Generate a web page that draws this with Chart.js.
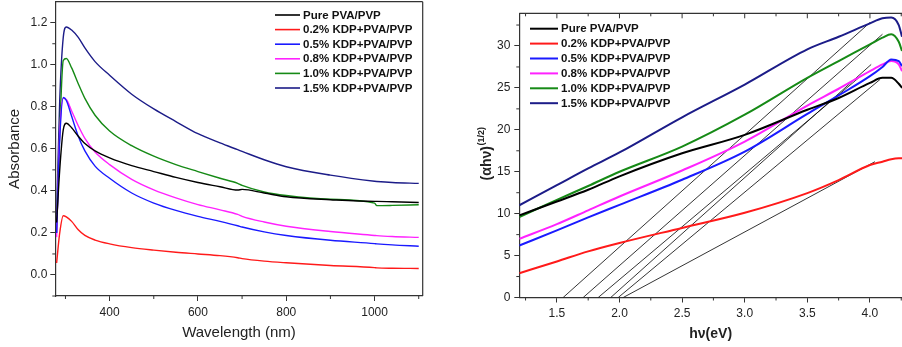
<!DOCTYPE html>
<html>
<head>
<meta charset="utf-8">
<script src="https://cdn.jsdelivr.net/npm/chart.js@4.4.1/dist/chart.umd.min.js"></script>
<style>
  html, body { margin: 0; padding: 0; background: #fff; }
  #wrap { position: relative; width: 902px; height: 347px; overflow: hidden; }
  #absChart { position: absolute; left: 0; top: 0; }
  #taucChart { position: absolute; left: 450px; top: 0; }
</style>
</head>
<body>
<div id="wrap">
  <canvas id="absChart" width="450" height="347"></canvas>
  <canvas id="taucChart" width="452" height="347"></canvas>
</div>
<script>
// series names and colours (same order in both panels)
const seriesLabels = ['Pure PVA/PVP', '0.2% KDP+PVA/PVP', '0.5% KDP+PVA/PVP',
  '0.8% KDP+PVA/PVP', '1.0% KDP+PVA/PVP', '1.5% KDP+PVA/PVP'];
const seriesColors = ['#000000', '#ff1a1a', '#1a1aff', '#ff22ff', '#168a16', '#1c1c88'];

// left panel: absorbance vs wavelength
const wavelengthNm = [280, 287, 295, 302, 314, 329, 344, 367, 400, 450, 500, 550, 600, 650, 690, 700, 750, 800, 900, 1000, 1005, 1040, 1100];
const absPure = [0.25, 0.50, 0.69, 0.722, 0.70, 0.66, 0.625, 0.59, 0.557, 0.52, 0.492, 0.464, 0.44, 0.42, 0.404, 0.407, 0.39, 0.372, 0.358, 0.35, 0.35, 0.348, 0.345];
const abs02 = [0.057, 0.20, 0.282, 0.276, 0.255, 0.215, 0.188, 0.166, 0.148, 0.13, 0.118, 0.108, 0.10, 0.092, 0.082, 0.078, 0.066, 0.058, 0.045, 0.035, 0.034, 0.032, 0.031];
const abs05 = [0.20, 0.643, 0.844, 0.83, 0.755, 0.66, 0.59, 0.518, 0.46, 0.39, 0.342, 0.307, 0.279, 0.255, 0.234, 0.228, 0.205, 0.188, 0.165, 0.149, 0.148, 0.143, 0.137];
const abs08 = [0.18, 0.675, 0.84, 0.835, 0.78, 0.71, 0.65, 0.585, 0.525, 0.455, 0.405, 0.367, 0.335, 0.31, 0.288, 0.279, 0.252, 0.232, 0.207, 0.188, 0.187, 0.183, 0.179];
const abs10 = [0.20, 0.675, 1.02, 1.03, 0.985, 0.91, 0.84, 0.76, 0.685, 0.615, 0.565, 0.525, 0.492, 0.46, 0.436, 0.426, 0.395, 0.378, 0.36, 0.342, 0.330, 0.331, 0.334];
const abs15 = [0.29, 0.83, 1.13, 1.18, 1.165, 1.13, 1.08, 1.015, 0.95, 0.86, 0.79, 0.73, 0.672, 0.628, 0.596, 0.588, 0.548, 0.515, 0.475, 0.446, 0.445, 0.44, 0.436];
const absXTicks = [400, 600, 800, 1000];
const absYTicks = [0, 0.2, 0.4, 0.6, 0.8, 1.0, 1.2];

// right panel: (alpha h nu)^(1/2) vs photon energy
const photonEv = [1.2, 1.5, 1.75, 2.0, 2.5, 3.0, 3.5, 3.75, 4.0, 4.1, 4.17, 4.23, 4.256];
const taucPure = [9.8, 11.45, 12.85, 14.45, 17.2, 19.4, 22.4, 23.8, 25.6, 26.2, 26.2, 25.5, 25.0];
const tauc02 = [2.9, 4.3, 5.5, 6.5, 8.3, 10.1, 12.45, 14.0, 15.8, 16.2, 16.5, 16.6, 16.6];
const tauc05 = [6.2, 8.0, 9.55, 11.05, 14.05, 17.4, 21.9, 24.1, 26.4, 27.5, 28.4, 28.2, 27.6];
const tauc08 = [7.0, 8.75, 10.4, 12.05, 15.15, 18.6, 22.9, 24.9, 27.0, 27.8, 28.2, 27.8, 27.0];
const tauc10 = [9.6, 11.65, 13.3, 15.0, 18.0, 21.8, 26.2, 28.2, 30.2, 31.0, 31.4, 30.5, 29.4];
const tauc15 = [11.0, 13.4, 15.4, 17.3, 21.5, 25.4, 29.6, 31.1, 32.7, 33.3, 33.4, 32.5, 31.1];
// linear fits extrapolated to the energy axis (Pure, 0.2, 0.5, 0.8, 1.0, 1.5)
const fitStartEv = [1.99, 2.03, 1.93, 1.83, 1.71, 1.55];
const fitEndEv = [4.08, 4.04, 4.01, 3.91, 4.10, 4.00];
const fitEndVal = [26.0, 16.2, 27.8, 26.2, 31.4, 32.8];
const taucXTicks = [1.5, 2.0, 2.5, 3.0, 3.5, 4.0];
const taucYTicks = [0, 5, 10, 15, 20, 25, 30];

const FONT = "'Liberation Sans', Arial, Helvetica, sans-serif";
const AXIS = '#333';

const toPts = (xs, ys) => xs.map((x, i) => ({ x: x, y: ys[i] }));

// frame, minor ticks and a top tick row drawn over the chart
const framePlugin = {
  id: 'frame',
  afterDraw(chart, args, o) {
    const { ctx, chartArea: ca, scales: { x, y } } = chart;
    ctx.save();
    ctx.strokeStyle = AXIS;
    ctx.lineWidth = 1.2;
    ctx.beginPath();
    if (o.top) { ctx.moveTo(ca.left, ca.top); ctx.lineTo(ca.right, ca.top); }
    if (o.right) { ctx.moveTo(ca.right, ca.top); ctx.lineTo(ca.right, ca.bottom); }
    ctx.stroke();
    ctx.lineWidth = 1;
    ctx.beginPath();
    o.xMinor.forEach(v => {
      const px = x.getPixelForValue(v);
      if (px < ca.left || px > ca.right) return;
      ctx.moveTo(px, ca.bottom); ctx.lineTo(px, ca.bottom + 3);
      if (o.topTicks) { ctx.moveTo(px, ca.top); ctx.lineTo(px, ca.top + 3); }
    });
    if (o.topTicks) {
      x.ticks.forEach(t => {
        const px = x.getPixelForValue(t.value);
        ctx.moveTo(px, ca.top); ctx.lineTo(px, ca.top + 5);
      });
    }
    o.yMinor.forEach(v => {
      const py = y.getPixelForValue(v);
      if (py < ca.top || py > ca.bottom) return;
      ctx.moveTo(ca.left, py); ctx.lineTo(ca.left - 3, py);
    });
    ctx.stroke();
    ctx.restore();
  }
};

// in-plot legend (skips the fit lines)
const legendPlugin = {
  id: 'plotLegend',
  afterDraw(chart, args, o) {
    const ctx = chart.ctx;
    ctx.save();
    ctx.font = 'bold ' + o.size + 'px ' + FONT;
    ctx.textBaseline = 'middle';
    ctx.fillStyle = '#111';
    let row = 0;
    chart.data.datasets.forEach(ds => {
      if (ds.isFit) return;
      const yy = o.y + row * o.rowH;
      ctx.strokeStyle = ds.borderColor;
      ctx.lineWidth = o.lineWidth;
      ctx.beginPath();
      ctx.moveTo(o.x, yy); ctx.lineTo(o.x + o.lineLen, yy);
      ctx.stroke();
      ctx.fillText(ds.label, o.x + o.lineLen + 3, yy + 0.5);
      row++;
    });
    ctx.restore();
  }
};

// y title with a superscript for the right panel
const taucTitlePlugin = {
  id: 'taucTitle',
  afterDraw(chart) {
    const ctx = chart.ctx;
    ctx.save();
    ctx.translate(36, 154);
    ctx.rotate(-Math.PI / 2);
    ctx.fillStyle = '#222';
    ctx.textBaseline = 'alphabetic';
    ctx.font = 'bold 14px ' + FONT;
    const base = '(\u03b1h\u03bd)';
    const sup = '(1/2)';
    const wBase = ctx.measureText(base).width;
    ctx.font = 'bold 9px ' + FONT;
    const wSup = ctx.measureText(sup).width;
    const x0 = -(wBase + wSup) / 2;
    ctx.font = 'bold 14px ' + FONT;
    ctx.fillText(base, x0, 5);
    ctx.font = 'bold 9px ' + FONT;
    ctx.fillText(sup, x0 + wBase + 0.5, -2);
    ctx.restore();
  }
};

// fixed box sizes; drop the label overhang padding Chart.js adds
function fixBox(w, h) {
  return s => {
    if (w !== null) s.width = w;
    if (h !== null) s.height = h;
    s.paddingTop = 0; s.paddingBottom = 0; s.paddingLeft = 0; s.paddingRight = 0;
  };
}

function axisCommon(ticks, fmt, fontSize) {
  return {
    type: 'linear',
    afterBuildTicks: s => { s.ticks = ticks.map(v => ({ value: v })); },
    grid: { drawOnChartArea: false, drawTicks: true, tickLength: 5, color: AXIS, lineWidth: 1 },
    border: { display: true, color: AXIS, width: 1.2 },
    ticks: { color: '#222', font: { family: FONT, size: fontSize }, padding: 3,
      maxRotation: 0, autoSkip: false, callback: fmt }
  };
}

// ---- left chart
const absSeries = [absPure, abs02, abs05, abs08, abs10, abs15];
const absX = axisCommon(absXTicks, v => String(v), 12);
Object.assign(absX, {
  min: 277, max: 1109,
  afterFit: fixBox(null, 51),
  title: { display: true, text: 'Wavelength (nm)', color: '#222',
    font: { family: FONT, size: 15 }, padding: { top: 0, bottom: 5 } }
});
absX.ticks.padding = 4;
const absY = axisCommon(absYTicks, v => v.toFixed(1), 12);
Object.assign(absY, {
  min: -0.1, max: 1.3,
  afterFit: fixBox(55.3, null),
  title: { display: true, text: 'Absorbance', color: '#222',
    font: { family: FONT, size: 15 }, padding: { top: 6, bottom: 0 } }
});

new Chart(document.getElementById('absChart'), {
  type: 'line',
  data: {
    datasets: absSeries.map((ys, i) => ({
      label: seriesLabels[i],
      data: toPts(wavelengthNm, ys),
      borderColor: seriesColors[i],
      borderWidth: 1.4,
      pointRadius: 0,
      cubicInterpolationMode: 'monotone'
    }))
  },
  options: {
    responsive: false,
    animation: false,
    events: [],
    layout: { padding: { left: 0, right: 27.3, top: 1.7, bottom: 0 } },
    scales: { x: absX, y: absY },
    plugins: {
      legend: { display: false },
      tooltip: { enabled: false },
      frame: { top: true, right: true, topTicks: false,
        xMinor: [300, 500, 700, 900, 1100], yMinor: [-0.1, 0.1, 0.3, 0.5, 0.7, 0.9, 1.1] },
      plotLegend: { x: 275, y: 15, rowH: 14.6, lineLen: 25, size: 11.5, lineWidth: 1.6 }
    }
  },
  plugins: [framePlugin, legendPlugin]
});

// ---- right chart
const taucSeries = [taucPure, tauc02, tauc05, tauc08, tauc10, tauc15];
const taucX = axisCommon(taucXTicks, v => v.toFixed(1), 12);
Object.assign(taucX, {
  min: 1.2, max: 4.256,
  afterFit: fixBox(null, 49.5),
  title: { display: true, text: 'h\u03bd(eV)', color: '#222',
    font: { family: FONT, size: 14, weight: 'bold' }, padding: { top: 0, bottom: 4 } }
});
taucX.ticks.padding = 4;
const taucY = axisCommon(taucYTicks, v => String(v), 12);
Object.assign(taucY, {
  min: 0, max: 33.9,
  afterFit: fixBox(69.3, null)
});
taucY.ticks.padding = 4;

const taucDatasets = taucSeries.map((ys, i) => ({
  label: seriesLabels[i],
  data: toPts(photonEv, ys),
  borderColor: seriesColors[i],
  borderWidth: 2,
  pointRadius: 0,
  cubicInterpolationMode: 'monotone'
}));
fitStartEv.forEach((x0, i) => {
  taucDatasets.push({
    label: 'fit ' + seriesLabels[i],
    isFit: true,
    data: [{ x: x0, y: 0 }, { x: fitEndEv[i], y: fitEndVal[i] }],
    borderColor: '#000',
    borderWidth: 0.8,
    pointRadius: 0
  });
});

new Chart(document.getElementById('taucChart'), {
  type: 'line',
  data: { datasets: taucDatasets },
  options: {
    responsive: false,
    animation: false,
    events: [],
    layout: { padding: { left: 0, right: 0, top: 13.3, bottom: 0 } },
    scales: { x: taucX, y: taucY },
    plugins: {
      legend: { display: false },
      tooltip: { enabled: false },
      frame: { top: true, right: false, topTicks: true,
        xMinor: [1.25, 1.75, 2.25, 2.75, 3.25, 3.75, 4.25], yMinor: [2.5, 7.5, 12.5, 17.5, 22.5, 27.5, 32.5] },
      plotLegend: { x: 80, y: 28.7, rowH: 14.9, lineLen: 28, size: 11.5, lineWidth: 2 }
    }
  },
  plugins: [framePlugin, legendPlugin, taucTitlePlugin]
});
</script>
</body>
</html>
